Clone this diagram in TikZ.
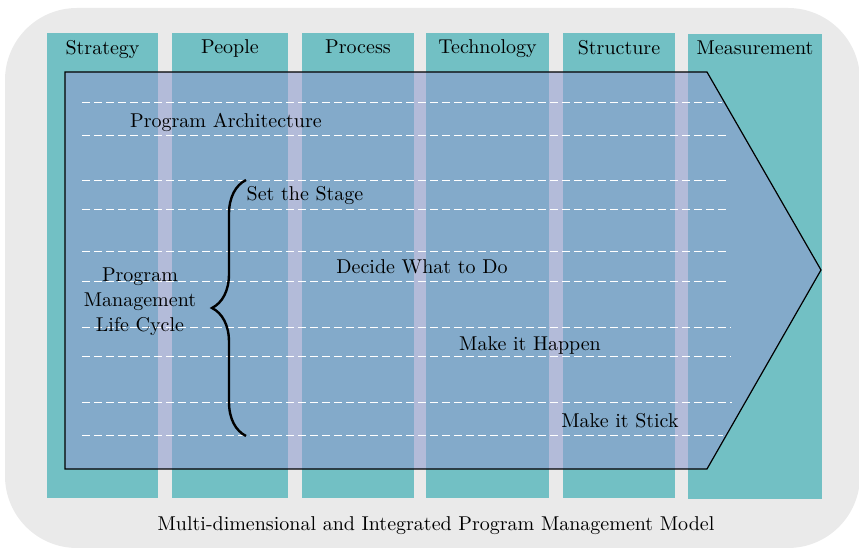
\documentclass[tikz,border=0pt]{standalone}
\usepackage{xcolor}
\usepackage{tikz}
\usetikzlibrary{positioning}
\usetikzlibrary{decorations.pathreplacing}

\definecolor{bggray}{RGB}{234,234,234}
\definecolor{colteal}{RGB}{114,192,196}
\definecolor{arrowblue}{RGB}{143,156,207}

\begin{document}
\begin{tikzpicture}[
x=0.5pt, y=-0.5pt,
node distance=7pt,
column/.style={
rectangle,
fill=colteal,
inner sep=0pt,
outer sep=0pt,
minimum height=232.5pt
},
header/.style={anchor=north, inner sep=3.3pt},
phase/.style={anchor=base, inner sep=0pt},
guide/.style={draw=white, line width=0.5pt, dash pattern=on 4pt off 2pt},
brace/.style={draw=black, line width=1.2pt,
decorate, decoration={brace, amplitude=17pt}}
]

\useasboundingbox (0,0) rectangle (859,549);

% background panel
\fill[bggray, rounded corners=36pt] (5,8) rectangle (860,548);

% dimension columns
\node[column, minimum width=55.5pt, anchor=north west] (strategy) at (47,33) {};
\node[column, minimum width=58pt, right=of strategy] (people) {};
\node[column, minimum width=56pt, right=of people] (process) {};
\node[column, minimum width=61.5pt, right=6pt of process] (technology) {};
\node[column, minimum width=56pt, right=of technology] (structure) {};
\node[column, minimum width=67pt, right=6.5pt of structure, yshift=-0.5pt] (measurement) {};

\node[header] at (strategy.north) {Strategy};
\node[header] at (people.north) {People};
\node[header] at (process.north) {Process};
\node[header] at (technology.north) {Technology};
\node[header] at (structure.north) {Structure};
\node[header] at (measurement.north) {Measurement};

% program arrow
\draw[fill=arrowblue, fill opacity=0.6, draw=black, line width=0.6pt]
(65,72) -- (707,72) -- (821,270) -- (707,469) -- (65,469) -- cycle;

% dashed bands
\draw[guide] (82,103) -- (722,103) (82,136) -- (728,136);
\draw[guide] (82,181) -- (728,181) (82,210) -- (728,210);
\draw[guide] (82,252) -- (729,252) (82,282) -- (729,282);
\draw[guide] (82,328) -- (731,328) (82,357) -- (731,357);
\draw[guide] (82,403) -- (732,403) (82,436) -- (723,436);

\node[phase] (arch) at (226,128) {Program Architecture};
\node[phase] (stage) at (305,201) {Set the Stage};
\node[phase] (decide) at (422,274) {Decide What to Do};
\node[phase] (happen) at (530,351) {Make it Happen};
\node[phase] (stick) at (620,428) {Make it Stick};

\node[align=center] (lifecycle) at (140,302)
{Program \\[0.6pt] Management \\[0.6pt] Life Cycle};

\coordinate (bracetop) at (246,180);
\coordinate (bracebot) at (246,436);
\draw[brace] (bracebot) -- (bracetop);

\node[phase] (caption) at (436,531)
{Multi-dimensional and Integrated Program Management Model};
\end{tikzpicture}
\end{document}
